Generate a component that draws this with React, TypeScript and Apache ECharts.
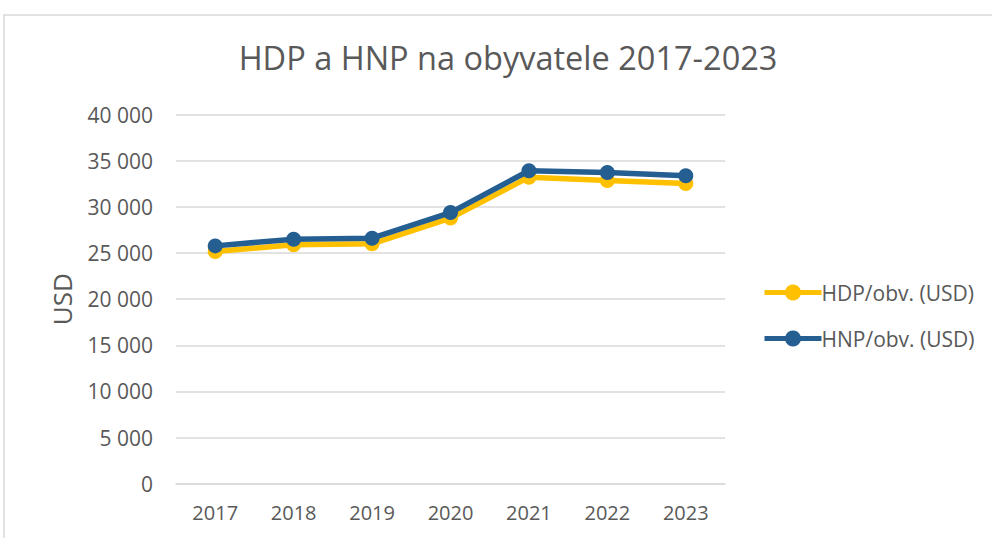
import React, { useEffect, useRef } from "react";
import * as echarts from "echarts";

const years = ["2017", "2018", "2019", "2020", "2021", "2022", "2023"];
const hdp = [25160, 25890, 26000, 28790, 33230, 32860, 32540];
const hnp = [25780, 26510, 26620, 29390, 33920, 33730, 33370];
const seriesNames = ["HDP/obv. (USD)", "HNP/obv. (USD)"];
const titleText = "HDP a HNP na obyvatele 2017-2023";
const yName = "USD";

const FONT = "'Open Sans', 'Noto Sans', sans-serif";

function fmt(v: number): string {
  return String(v).replace(/\B(?=(\d{3})+(?!\d))/g, " ");
}

export default function App() {
  const ref = useRef<HTMLDivElement>(null);
  useEffect(() => {
    if (!ref.current) return;
    const chart = echarts.init(ref.current, undefined, { renderer: "svg" });
    chart.setOption({
      animation: false,
      backgroundColor: "#ffffff",
      textStyle: { fontFamily: FONT },
      title: {
        text: titleText,
        left: 503,
        textAlign: "center",
        top: 36,
        textStyle: { fontFamily: FONT, fontSize: 32.5, fontWeight: "normal", color: "#595959" },
      },
      graphic: [
        {
          type: "rect",
          shape: { x: 4, y: 15, width: 1200, height: 700 },
          style: { fill: "none", stroke: "#d9d9d9", lineWidth: 1.5 },
          silent: true,
        },
      ],
      legend: {
        orient: "vertical",
        left: 757,
        top: 277,
        itemWidth: 57,
        itemHeight: 20,
        itemGap: 25,
        lineStyle: { width: 5 },
        textStyle: { fontFamily: FONT, fontSize: 21, color: "#595959", padding: [0, 0, 0, -5] },
        data: seriesNames,
      },
      grid: { left: 176, right: 267, top: 114.7, bottom: 54.3, containLabel: false },
      xAxis: {
        type: "category",
        data: years,
        axisLine: { show: true, lineStyle: { color: "#d9d9d9", width: 1.5 } },
        axisTick: { show: false },
        axisLabel: { fontFamily: FONT, fontSize: 20, color: "#595959", margin: 19 },
      },
      yAxis: {
        type: "value",
        min: 0,
        max: 40000,
        interval: 5000,
        name: yName,
        nameLocation: "middle",
        nameGap: 101,
        nameRotate: 90,
        nameTextStyle: { fontFamily: FONT, fontSize: 26, color: "#595959" },
        axisLine: { show: false },
        axisTick: { show: false },
        splitLine: { lineStyle: { color: "#d9d9d9", width: 1.5 } },
        axisLabel: { fontFamily: FONT, fontSize: 21, color: "#595959", margin: 23, formatter: (v: number) => fmt(v) },
      },
      series: [
        {
          name: seriesNames[0],
          type: "line",
          data: hdp,
          symbol: "circle",
          symbolSize: 15,
          lineStyle: { width: 5.5, color: "#FFC000" },
          itemStyle: { color: "#FFC000" },
          z: 2,
        },
        {
          name: seriesNames[1],
          type: "line",
          data: hnp,
          symbol: "circle",
          symbolSize: 15,
          lineStyle: { width: 5.5, color: "#255E91" },
          itemStyle: { color: "#255E91" },
          z: 3,
        },
      ],
    });
    return () => chart.dispose();
  }, []);
  return (
    <div
      ref={ref}
      style={{ position: "absolute", left: 0, top: 0, width: 992, height: 538 }}
    />
  );
}
